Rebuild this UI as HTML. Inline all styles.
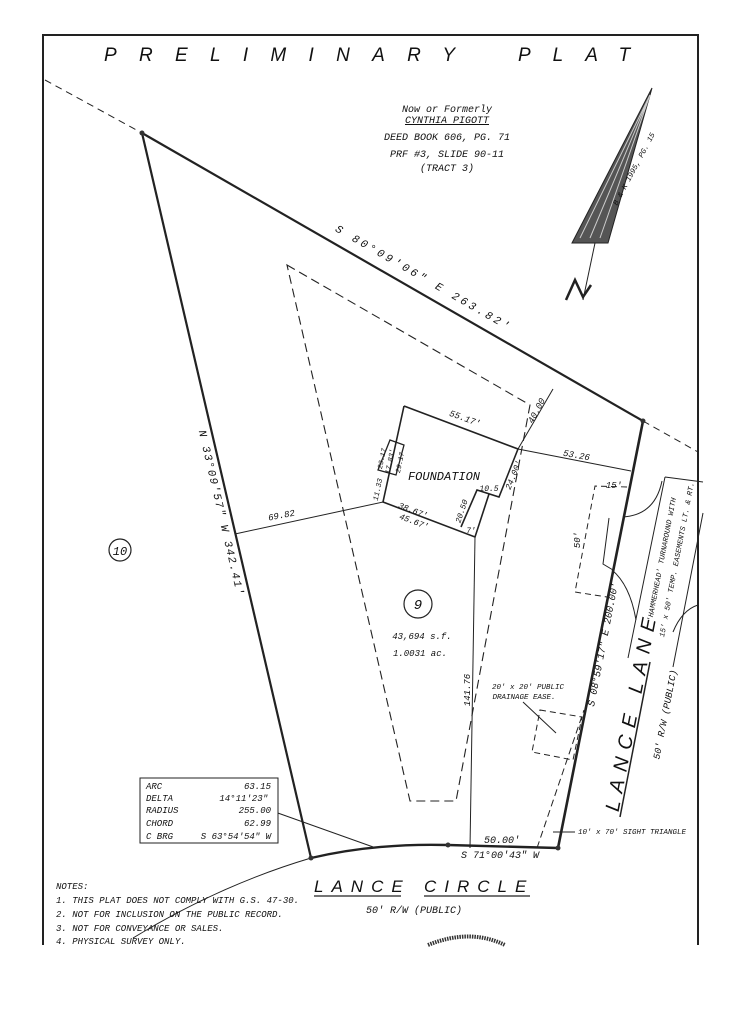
<!DOCTYPE html>
<html><head><meta charset="utf-8"><style>
html,body{margin:0;padding:0;background:#fff;}
svg{display:block;}
text{font-family:"Liberation Mono",monospace;font-style:italic;fill:#111;}
.s{font-family:"Liberation Sans",sans-serif;}
</style></head><body>
<svg width="744" height="1024" viewBox="0 0 744 1024" xmlns="http://www.w3.org/2000/svg">
<rect width="744" height="1024" fill="#fff"/>
<path d="M43,948 L43,35 L698,35 L698,947" fill="none" stroke="#222" stroke-width="2"/>
<text class="s" x="104" y="61" font-size="19" letter-spacing="22.3">PRELIMINARY</text>
<text class="s" x="518" y="61" font-size="19" letter-spacing="22">PLAT</text>
<g font-size="10" text-anchor="middle">
<text x="447" y="112">Now or Formerly</text>
<text x="447" y="123" text-decoration="underline">CYNTHIA PIGOTT</text>
<text x="447" y="140">DEED BOOK 606, PG. 71</text>
<text x="447" y="157">PRF #3, SLIDE 90-11</text>
<text x="447" y="171">(TRACT 3)</text>
</g>
<g stroke="#222" fill="none">
<line x1="45" y1="80" x2="142" y2="133" stroke-width="1" stroke-dasharray="7,5"/>
<line x1="643" y1="421" x2="698" y2="452" stroke-width="1" stroke-dasharray="7,5"/>
<line x1="142" y1="133" x2="643" y2="421" stroke-width="2.2"/>
<line x1="142" y1="133" x2="311" y2="858" stroke-width="2.2"/>
<line x1="643" y1="421" x2="558" y2="848" stroke-width="2.6"/>
<path d="M311,858 Q375,843 448,845 L558,848" stroke-width="2.4"/>
<path d="M133,938 Q220,885 311,858" stroke-width="1"/>
<line x1="275" y1="812" x2="376" y2="848" stroke-width="1"/>
<path d="M287,265 L530,405 L456,801 L410,801 Z" stroke-width="1.1" stroke-dasharray="9,5"/>
<path d="M404,406 L518,449 L499,497 L477,490 L461,527 M489,494 L475,537 L383,502 L404,406" stroke-width="1.6"/>
<path d="M390,440 L404,445 L396,475 L378,470 Z" stroke-width="1.3"/>
<line x1="518" y1="449" x2="553" y2="389" stroke-width="1"/>
<line x1="518" y1="449" x2="631" y2="471" stroke-width="1"/>
<line x1="383" y1="502" x2="235" y2="534" stroke-width="1"/>
<line x1="475" y1="537" x2="470" y2="848" stroke-width="1"/>
<path d="M627,487 L595,486 L575,592 L607,597" stroke-width="1" stroke-dasharray="6,4"/>
<path d="M665,477 L628,658 M665,477 L703,482 M703,513 L673,667" stroke-width="1"/>
<path d="M623,517 Q655,515 662,481 M612,570 Q630,585 636,620 M673,632 Q682,610 698,605" stroke-width="1"/>
<path d="M609,518 L603,564 L613,570" stroke-width="1"/>
<line x1="620" y1="817" x2="650" y2="662" stroke-width="1.5"/>
<path d="M540,710 L582,717 L573,760 L532,752 Z" stroke-width="1" stroke-dasharray="6,4"/>
<line x1="523" y1="702" x2="556" y2="733" stroke-width="1"/>
<line x1="537" y1="848" x2="584" y2="710" stroke-width="1" stroke-dasharray="7,4"/>
<line x1="553" y1="832" x2="575" y2="832" stroke-width="1"/>
</g>
<g fill="#333">
<circle cx="142" cy="133" r="2.5"/><circle cx="643" cy="421" r="2.5"/>
<circle cx="311" cy="858" r="2.5"/><circle cx="448" cy="845" r="2.5"/><circle cx="558" cy="848" r="2.5"/>
</g>
<circle cx="120" cy="550" r="11" fill="none" stroke="#222" stroke-width="1.2"/>
<text x="120" y="555" font-size="12" text-anchor="middle">10</text>
<circle cx="418" cy="604" r="14" fill="none" stroke="#222" stroke-width="1.2"/>
<text x="418" y="609" font-size="14" text-anchor="middle">9</text>
<g font-size="9" text-anchor="middle">
<text x="422" y="639">43,694 s.f.</text>
<text x="420" y="656">1.0031 ac.</text>
<text x="444" y="480" font-size="12">FOUNDATION</text>
<text transform="translate(422,281) rotate(29.9)" font-size="11" letter-spacing="3">S 80°09'06" E 263.82'</text>
<text transform="translate(218,514) rotate(76.9)" font-size="11" letter-spacing="1.5">N 33°09'57" W 342.41'</text>
<text transform="translate(464,421) rotate(20)" font-size="9">55.17'</text>
<text transform="translate(576,458) rotate(10)" font-size="9">53.26</text>
<text transform="translate(282,518) rotate(-11)" font-size="9">69.82</text>
<text transform="translate(412,513) rotate(21)" font-size="8.5">38.67'</text>
<text transform="translate(413,524) rotate(21)" font-size="8.5">45.67'</text>
<text transform="translate(539,412) rotate(-62)" font-size="9">40.00</text>
<text transform="translate(516,476) rotate(-68)" font-size="8.5">24.00'</text>
<text x="489" y="491" font-size="8">10.5</text>
<text transform="translate(464,512) rotate(-72)" font-size="8">20.50</text>
<text x="471" y="533" font-size="8">7'</text>
<text transform="translate(392,462) rotate(-78)" font-size="7">17.83'</text>
<text transform="translate(384,459) rotate(-78)" font-size="7">23.17</text>
<text transform="translate(402,463) rotate(-78)" font-size="7">29.17</text>
<text transform="translate(380,490) rotate(-78)" font-size="7.5">11.33</text>
<text transform="translate(470,690) rotate(-90)" font-size="9">141.76</text>
<text x="614" y="488" font-size="9">15'</text>
<text transform="translate(580,540) rotate(-90)" font-size="9">50'</text>
<text transform="translate(606,645) rotate(-79)" font-size="10">S 08°59'17" E 200.00'</text>
<text class="s" transform="translate(638,712) rotate(-79)" font-size="20" letter-spacing="8">LANCE LANE</text>
<text transform="translate(668,715) rotate(-79)" font-size="9.5">50' R/W (PUBLIC)</text>
<text transform="translate(664,560) rotate(-79)" font-size="7.5">'HAMMERHEAD' TURNAROUND WITH</text>
<text transform="translate(679,560) rotate(-79)" font-size="7.5">15' x 50' TEMP. EASEMENTS LT. &amp; RT.</text>
<text x="528" y="689" font-size="7.5">20' x 20' PUBLIC</text>
<text x="524" y="699" font-size="7.5">DRAINAGE EASE.</text>
<text x="502" y="843" font-size="10">50.00'</text>
<text x="500" y="858" font-size="10">S 71°00'43" W</text>
<text x="414" y="913" font-size="10">50' R/W (PUBLIC)</text>
</g>
<text x="578" y="834" font-size="7.5">10' x 70' SIGHT TRIANGLE</text>
<text class="s" x="314" y="892" font-size="17" letter-spacing="8">LANCE</text>
<text class="s" x="424" y="892" font-size="17" letter-spacing="8">CIRCLE</text>
<line x1="314" y1="896" x2="401" y2="896" stroke="#222" stroke-width="1.3"/>
<line x1="424" y1="896" x2="530" y2="896" stroke="#222" stroke-width="1.3"/>
<rect x="140" y="778" width="138" height="65" fill="#fff" stroke="#222" stroke-width="1"/>
<g font-size="9">
<text x="146" y="789">ARC</text><text x="271" y="789" text-anchor="end">63.15</text>
<text x="146" y="801">DELTA</text><text x="268" y="801" text-anchor="end">14°11'23"</text>
<text x="146" y="813">RADIUS</text><text x="271" y="813" text-anchor="end">255.00</text>
<text x="146" y="826">CHORD</text><text x="271" y="826" text-anchor="end">62.99</text>
<text x="146" y="839">C BRG</text><text x="271" y="839" text-anchor="end">S 63°54'54" W</text>
</g>
<g font-size="9">
<text x="56" y="889">NOTES:</text>
<text x="56" y="903">1. THIS PLAT DOES NOT COMPLY WITH G.S. 47-30.</text>
<text x="56" y="917">2. NOT FOR INCLUSION ON THE PUBLIC RECORD.</text>
<text x="56" y="931">3. NOT FOR CONVEYANCE OR SALES.</text>
<text x="56" y="944">4. PHYSICAL SURVEY ONLY.</text>
</g>
<rect x="0" y="945" width="744" height="79" fill="#fff"/>
<path d="M428,945 Q470,928 505,945" fill="none" stroke="#333" stroke-width="4" stroke-dasharray="1.5,1"/>
<g stroke="#222" fill="none" stroke-width="1">
<path d="M572,243 L652,88 L608,243 Z" fill="#555"/>
<path d="M580,238 L650,95 M590,238 L650,95 M600,238 L650,95" stroke="#ccc"/>
<line x1="572" y1="243" x2="608" y2="243"/>
<line x1="595" y1="243" x2="583" y2="300"/>
<path d="M566,300 L575,280 L583,297 L591,285" stroke-width="2.5"/>
</g>
<text transform="translate(636,170) rotate(-62)" font-size="7.5" text-anchor="middle">B &amp; K 1995, PG. 15</text>
</svg>
</body></html>
